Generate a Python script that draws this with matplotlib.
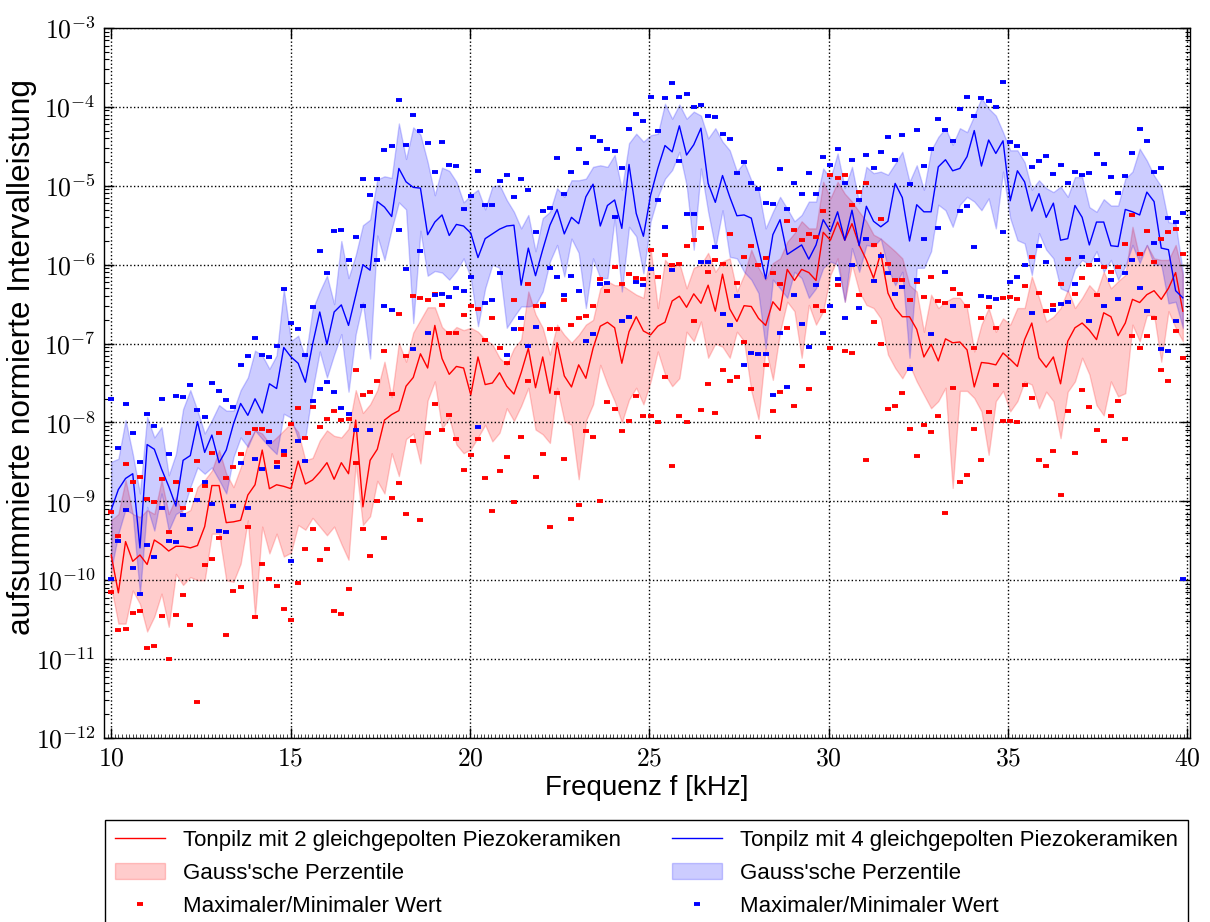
import numpy as np
import matplotlib
matplotlib.use("Agg")
import matplotlib.pyplot as plt
from matplotlib.ticker import FuncFormatter, FixedLocator, MultipleLocator, LogLocator

# ==============================================
# Data (values given as log10 of the summed normalised interval power)
# ==============================================

freq = np.linspace(10.0, 39.87, 150)  # kHz

# Tonpilz with 2 piezo ceramics (red)
red_mean_exp = [
    -9.68, -10.16, -9.51, -9.76, -9.68, -9.80, -9.49, -9.55, -9.63, -9.57, -9.57, -9.59, -9.56, -9.32, -8.80, -8.80, -9.27, -9.26, -9.24, -8.92, -8.79, -8.35, -8.84, -8.79, -8.81,
    -8.84, -8.49, -8.78, -8.73, -8.63, -8.51, -8.72, -8.51, -8.65, -7.97, -9.07, -8.48, -8.34, -7.97, -7.90, -7.85, -7.54, -7.43, -7.13, -7.31, -6.77, -7.19, -7.39, -7.29, -7.31,
    -7.65, -7.17, -7.52, -7.50, -7.37, -7.54, -7.64, -7.37, -7.06, -7.56, -7.17, -7.63, -6.99, -7.41, -7.55, -7.27, -7.44, -7.06, -6.78, -6.73, -6.80, -7.25, -6.85, -6.66, -6.84,
    -6.89, -6.78, -6.73, -6.46, -6.40, -6.54, -6.37, -6.49, -6.26, -6.59, -6.12, -6.56, -6.72, -6.52, -6.53, -6.68, -6.77, -6.47, -6.58, -6.06, -6.20, -6.06, -6.10, -6.20, -5.59,
    -5.69, -5.46, -5.69, -5.48, -5.75, -5.94, -6.17, -5.85, -6.36, -6.55, -6.66, -6.66, -6.82, -7.17, -7.01, -7.22, -6.94, -6.99, -6.98, -7.08, -7.55, -7.24, -7.25, -7.27, -7.12,
    -7.20, -7.29, -6.95, -6.74, -7.18, -7.30, -7.17, -7.51, -6.97, -6.80, -6.74, -6.83, -6.95, -6.61, -6.66, -6.90, -6.74, -6.44, -6.48, -6.38, -6.33, -6.44, -6.30, -6.10, -6.59,
]
red_upper_exp = [
    -9.24, -9.16, -8.73, -9.16, -9.20, -9.11, -9.16, -8.73, -9.16, -8.95, -9.16, -9.11, -8.82, -8.73, -8.61, -8.35, -8.65, -8.82, -8.57, -8.27, -8.10, -8.14, -8.27, -8.19, -8.10,
    -8.01, -8.12, -8.48, -8.45, -8.23, -8.10, -8.17, -8.19, -8.08, -7.59, -7.88, -7.77, -7.59, -7.23, -7.68, -6.99, -7.23, -6.86, -6.70, -6.54, -6.54, -6.79, -6.88, -6.79, -6.83,
    -6.80, -6.85, -6.95, -7.01, -7.18, -7.27, -7.06, -6.95, -6.34, -6.63, -6.80, -7.14, -6.76, -6.89, -6.99, -6.89, -6.76, -6.70, -6.30, -6.21, -6.26, -6.26, -6.32, -6.38, -6.42,
    -5.79, -6.55, -5.94, -6.04, -5.98, -6.30, -6.04, -6.00, -5.85, -6.09, -5.96, -5.92, -6.34, -6.13, -5.81, -6.04, -6.19, -5.98, -5.92, -5.71, -5.60, -5.45, -5.54, -5.54, -4.95,
    -5.16, -4.95, -5.10, -5.20, -5.33, -5.45, -5.62, -5.67, -5.75, -5.83, -5.92, -6.26, -6.34, -6.85, -6.38, -6.55, -6.47, -6.42, -6.42, -6.55, -7.10, -6.76, -6.55, -6.85, -6.68,
    -6.76, -6.55, -6.55, -6.15, -6.42, -6.72, -6.66, -6.55, -6.32, -6.55, -6.42, -6.26, -6.36, -6.09, -6.30, -6.21, -6.13, -5.52, -5.92, -5.75, -5.92, -5.94, -5.94, -5.75, -6.13,
]
red_lower_exp = [
    -10.08, -10.55, -10.55, -10.13, -10.30, -10.65, -10.46, -10.17, -10.59, -9.92, -10.06, -9.96, -10.00, -10.00, -9.41, -9.41, -10.00, -10.02, -9.79, -9.24, -10.46, -9.32, -9.66, -9.41, -9.70,
    -9.65, -9.30, -9.36, -9.21, -9.32, -9.43, -9.32, -9.54, -9.74, -8.52, -9.30, -9.19, -8.74, -8.90, -8.39, -8.68, -8.21, -8.14, -8.52, -7.72, -7.48, -8.08, -7.94, -8.28, -8.39,
    -8.34, -8.19, -8.03, -8.24, -8.13, -7.82, -7.98, -7.79, -7.56, -8.09, -8.15, -8.26, -7.56, -7.98, -8.03, -8.72, -7.98, -7.77, -7.27, -7.52, -7.73, -8.00, -7.71, -7.56, -7.77,
    -7.48, -7.10, -7.39, -7.54, -7.44, -6.85, -6.97, -6.72, -7.18, -7.00, -7.04, -7.18, -6.85, -6.97, -7.60, -7.96, -7.06, -7.46, -6.85, -6.47, -6.59, -7.18, -6.51, -6.76, -6.59,
    -6.13, -5.92, -6.47, -6.00, -6.34, -6.51, -6.55, -6.68, -7.14, -7.31, -7.44, -7.27, -7.48, -7.65, -7.82, -7.73, -7.56, -8.83, -7.60, -7.60, -7.69, -7.86, -8.41, -7.73, -7.60,
    -7.86, -7.73, -7.48, -7.52, -7.82, -7.61, -7.73, -8.20, -7.61, -7.48, -7.18, -7.39, -7.78, -7.91, -7.48, -7.67, -7.63, -6.76, -6.97, -6.64, -6.64, -7.23, -6.59, -6.80, -6.97,
]
red_max_exp = [
    -9.13, -9.44, -8.53, -8.76, -8.69, -8.97, -9.01, -8.72, -9.39, -8.76, -9.09, -8.86, -8.49, -8.80, -8.39, -8.14, -8.70, -8.57, -8.40, -8.14, -8.08, -8.08, -8.11, -8.50, -8.41,
    -8.02, -7.82, -8.20, -7.80, -8.06, -7.96, -7.86, -7.97, -7.96, -7.34, -7.65, -7.62, -7.48, -7.09, -7.64, -6.62, -7.16, -6.40, -6.42, -6.45, -6.37, -6.51, -6.86, -6.86, -6.64,
    -6.52, -6.56, -6.96, -6.68, -7.05, -7.25, -6.45, -6.82, -6.25, -6.53, -6.50, -6.81, -6.81, -6.45, -6.76, -6.68, -6.65, -6.52, -6.18, -6.34, -6.03, -6.25, -6.12, -6.17, -6.18,
    -5.82, -6.15, -5.88, -6.00, -5.99, -5.76, -5.69, -5.53, -6.09, -5.94, -5.99, -5.61, -6.23, -5.90, -5.76, -6.00, -5.91, -6.10, -6.24, -5.45, -5.56, -5.69, -5.61, -5.65, -5.32,
    -4.86, -4.90, -4.86, -5.24, -5.08, -4.96, -5.75, -5.42, -5.99, -6.20, -6.20, -6.45, -6.22, -6.41, -6.15, -6.46, -6.48, -6.31, -6.37, -6.53, -7.06, -6.67, -6.54, -6.80, -6.42,
    -6.41, -6.44, -6.27, -5.90, -6.36, -6.59, -6.51, -6.25, -5.93, -6.37, -6.17, -6.01, -6.38, -6.03, -6.09, -6.03, -5.74, -5.37, -5.86, -5.57, -5.96, -5.68, -5.59, -5.55, -5.87,
]
red_min_exp = [
    -10.15, -10.63, -10.62, -10.41, -10.39, -10.86, -10.83, -10.45, -11.00, -10.44, -10.19, -10.57, -11.54, -9.81, -9.73, -9.47, -10.70, -10.14, -10.08, -9.33, -10.46, -9.80, -9.99, -10.07, -10.36,
    -10.50, -10.04, -9.60, -9.35, -9.74, -9.61, -10.39, -10.43, -10.11, -8.51, -9.35, -9.69, -8.99, -9.46, -8.96, -8.77, -9.16, -8.24, -9.24, -8.13, -7.76, -8.10, -7.90, -8.21, -8.60,
    -8.41, -8.21, -8.70, -9.12, -8.62, -8.44, -9.01, -8.19, -7.48, -8.69, -8.40, -9.32, -7.63, -8.46, -9.23, -9.05, -8.11, -8.19, -8.99, -7.74, -7.83, -8.11, -7.98, -7.66, -7.92,
    -7.92, -8.00, -7.43, -8.55, -7.92, -8.00, -6.72, -7.84, -7.51, -7.88, -7.33, -7.48, -7.42, -6.98, -7.58, -8.18, -7.27, -7.86, -7.61, -6.80, -7.79, -7.29, -7.57, -6.52, -6.59,
    -7.05, -6.26, -7.10, -7.12, -6.39, -8.48, -6.73, -7.01, -7.83, -7.79, -7.63, -8.08, -8.42, -8.03, -8.12, -7.92, -9.15, -7.56, -8.76, -8.66, -8.08, -8.48, -7.87, -7.53, -7.98,
    -7.98, -7.99, -7.53, -7.69, -8.48, -8.55, -8.36, -8.92, -7.86, -8.39, -7.59, -7.81, -8.09, -8.24, -7.92, -7.73, -8.21, -6.91, -7.05, -6.90, -6.68, -7.34, -7.47, -6.84, -7.18,
]

# Tonpilz with 4 piezo ceramics (blue)
blue_mean_exp = [
    -9.11, -8.85, -8.71, -8.65, -9.59, -8.28, -8.34, -8.59, -8.81, -9.06, -8.48, -8.42, -7.99, -8.38, -8.16, -8.51, -8.35, -8.02, -7.76, -7.91, -7.70, -7.88, -7.51, -7.57, -7.05,
    -7.17, -7.25, -7.49, -7.01, -6.60, -7.01, -6.60, -6.51, -6.77, -6.39, -6.00, -6.07, -5.20, -5.27, -5.39, -4.78, -4.95, -5.02, -5.03, -5.62, -5.46, -5.37, -5.63, -5.49, -5.51,
    -5.60, -5.91, -5.67, -5.61, -5.55, -5.51, -5.50, -6.26, -5.79, -6.14, -5.81, -5.50, -5.30, -5.61, -5.40, -5.48, -5.14, -4.98, -5.51, -5.25, -5.18, -5.54, -4.73, -5.35, -5.64,
    -5.12, -4.78, -4.49, -4.57, -4.24, -4.61, -4.48, -4.27, -4.97, -5.21, -4.87, -5.14, -5.38, -5.37, -5.41, -5.79, -6.18, -5.62, -5.43, -5.87, -5.81, -5.75, -5.93, -5.75, -5.43,
    -5.58, -5.33, -5.69, -5.31, -5.76, -5.26, -5.45, -5.52, -5.45, -4.97, -5.15, -5.70, -5.24, -5.33, -5.33, -4.76, -4.67, -4.81, -4.78, -4.63, -4.30, -4.75, -4.42, -4.59, -4.43,
    -5.19, -4.81, -4.95, -5.32, -5.10, -5.40, -5.22, -5.69, -5.67, -5.25, -5.40, -5.75, -5.46, -5.46, -5.76, -5.77, -5.30, -5.33, -5.37, -5.08, -5.20, -5.79, -5.81, -6.33, -6.42,
]
blue_upper_exp = [
    -8.50, -8.46, -7.97, -8.40, -8.90, -7.93, -8.19, -8.06, -8.67, -8.40, -7.83, -7.59, -7.85, -8.14, -7.97, -7.78, -7.85, -7.85, -7.59, -7.43, -7.09, -7.15, -7.32, -7.15, -6.31,
    -6.97, -6.90, -7.19, -6.57, -6.34, -6.14, -6.50, -5.70, -6.17, -5.88, -5.50, -5.43, -4.92, -4.88, -4.90, -4.21, -4.66, -4.26, -4.35, -4.70, -5.12, -4.77, -4.81, -4.95, -5.21,
    -5.12, -5.05, -5.30, -5.01, -4.99, -5.18, -5.33, -5.54, -5.37, -5.83, -5.41, -5.33, -5.03, -5.14, -4.93, -4.93, -4.91, -4.76, -4.74, -4.76, -4.61, -5.05, -4.46, -4.34, -4.44,
    -4.36, -4.34, -3.96, -4.15, -3.97, -4.15, -4.06, -4.11, -4.40, -4.27, -4.44, -4.55, -4.82, -4.70, -4.93, -5.05, -5.54, -5.33, -5.14, -5.29, -5.45, -5.37, -5.20, -5.20, -4.78,
    -4.91, -4.59, -5.03, -4.76, -5.22, -4.76, -4.84, -4.82, -4.86, -4.72, -4.57, -4.95, -4.74, -5.05, -4.55, -4.38, -4.27, -4.48, -4.27, -4.32, -4.11, -3.89, -4.02, -4.11, -4.32,
    -4.55, -4.55, -4.70, -5.05, -4.93, -5.03, -5.08, -5.01, -5.14, -4.89, -4.89, -5.27, -5.33, -5.17, -5.25, -5.25, -4.91, -4.82, -4.53, -4.68, -4.87, -5.01, -5.46, -5.48, -6.09,
]
blue_lower_exp = [
    -9.87, -9.41, -9.10, -9.16, -10.17, -9.07, -9.37, -8.90, -9.37, -9.16, -9.11, -8.82, -8.57, -8.65, -8.57, -8.73, -8.90, -8.44, -8.19, -8.31, -8.10, -8.21, -8.31, -8.40, -7.89,
    -7.94, -8.21, -8.19, -7.59, -7.10, -7.43, -7.14, -6.88, -7.61, -6.88, -6.48, -7.19, -5.63, -5.94, -5.55, -5.21, -5.30, -6.74, -5.57, -6.14, -6.08, -6.10, -6.19, -6.08, -5.92,
    -6.17, -6.78, -6.30, -6.00, -6.04, -6.80, -6.66, -6.53, -6.53, -6.51, -6.34, -5.96, -5.75, -6.15, -5.67, -5.85, -6.55, -5.92, -6.17, -6.17, -5.41, -6.34, -5.52, -5.64, -6.11,
    -5.45, -5.14, -4.91, -4.80, -4.57, -4.99, -5.81, -4.78, -5.33, -5.79, -5.31, -5.90, -5.92, -6.09, -6.19, -6.36, -7.06, -6.19, -6.30, -6.42, -6.09, -6.17, -6.42, -6.30, -6.04,
    -5.96, -6.00, -6.47, -5.79, -6.09, -5.75, -5.77, -5.67, -6.04, -6.26, -6.09, -7.18, -6.04, -6.04, -5.83, -5.24, -5.31, -5.52, -5.24, -5.14, -5.20, -5.31, -5.16, -5.54, -4.82,
    -5.41, -5.69, -5.73, -6.13, -5.60, -5.81, -5.92, -6.30, -6.34, -6.05, -5.94, -6.00, -5.83, -6.09, -5.94, -6.19, -6.02, -5.75, -5.98, -5.75, -6.00, -6.00, -6.49, -6.47, -6.80,
]
blue_max_exp = [
    -7.70, -8.33, -7.76, -8.14, -8.50, -7.89, -8.04, -7.70, -8.40, -7.67, -7.68, -7.53, -7.84, -7.93, -7.50, -7.60, -7.72, -7.80, -7.27, -7.16, -6.93, -7.14, -7.17, -7.03, -6.31,
    -6.74, -6.82, -7.14, -6.54, -5.83, -6.10, -5.57, -5.56, -5.94, -5.65, -4.91, -5.12, -4.92, -4.55, -4.49, -3.91, -4.48, -4.10, -4.31, -4.46, -4.83, -4.44, -4.74, -4.75, -5.29,
    -5.13, -4.81, -5.24, -5.24, -4.94, -4.86, -5.14, -4.92, -5.05, -5.58, -5.32, -5.28, -4.65, -5.10, -4.82, -4.53, -4.71, -4.38, -4.43, -4.53, -4.56, -4.78, -4.28, -4.09, -4.18,
    -3.87, -4.31, -3.89, -3.70, -3.87, -3.84, -4.00, -3.98, -4.11, -4.13, -4.35, -4.41, -4.84, -4.70, -4.97, -5.04, -5.22, -5.23, -4.79, -5.29, -4.96, -5.10, -4.84, -5.10, -4.64,
    -4.74, -4.53, -4.97, -4.67, -5.18, -4.61, -4.78, -4.57, -4.38, -4.67, -4.36, -4.98, -4.29, -4.75, -4.54, -4.15, -4.29, -4.43, -4.03, -3.87, -4.11, -3.89, -3.92, -4.00, -3.69,
    -4.44, -4.49, -4.60, -4.76, -4.68, -4.62, -4.85, -4.74, -4.96, -4.82, -4.86, -4.84, -4.60, -4.73, -4.89, -5.09, -4.88, -4.59, -4.28, -4.43, -4.83, -4.77, -5.41, -5.46, -5.35,
]
blue_min_exp = [
    -9.99, -9.50, -9.11, -9.85, -10.17, -9.55, -9.70, -9.09, -9.50, -9.51, -9.17, -9.35, -8.98, -8.76, -9.04, -9.38, -9.39, -9.06, -8.51, -9.09, -8.46, -8.59, -8.25, -8.57, -8.36,
    -9.75, -8.23, -8.49, -7.73, -7.57, -7.49, -7.62, -7.82, -7.89, -8.09, -6.52, -8.10, -5.94, -6.52, -6.57, -5.56, -6.05, -7.07, -5.83, -6.87, -6.39, -6.37, -6.41, -6.29, -6.34,
    -6.16, -8.06, -6.48, -6.45, -6.10, -7.15, -6.81, -6.68, -7.03, -6.79, -6.53, -6.04, -6.15, -6.39, -6.14, -6.33, -6.97, -6.88, -6.24, -6.23, -5.39, -6.72, -6.66, -6.22, -6.26,
    -6.05, -5.18, -5.52, -6.07, -4.69, -5.36, -5.36, -5.97, -5.97, -5.78, -6.63, -6.77, -6.40, -7.27, -7.12, -7.13, -7.13, -7.65, -6.86, -7.55, -6.38, -6.75, -7.04, -6.26, -6.86,
    -6.53, -6.18, -6.67, -6.00, -6.55, -5.67, -6.21, -5.89, -6.10, -6.37, -6.28, -7.32, -6.20, -5.67, -6.88, -5.54, -6.09, -6.53, -5.32, -5.26, -5.77, -6.40, -6.41, -6.44, -5.58,
    -6.22, -6.16, -6.00, -6.61, -5.76, -5.97, -6.57, -6.50, -6.47, -6.24, -5.90, -6.71, -5.94, -6.53, -6.19, -6.44, -6.11, -5.94, -6.29, -6.59, -5.73, -7.07, -7.09, -6.72, -9.98,
]

x_ticks = [10, 15, 20, 25, 30, 35, 40]
y_exponents = list(range(-12, -2))

labels = {
    'red_line': 'Tonpilz mit 2 gleichgepolten Piezokeramiken',
    'blue_line': 'Tonpilz mit 4 gleichgepolten Piezokeramiken',
    'band': "Gauss'sche Perzentile",
    'extreme': 'Maximaler/Minimaler Wert',
}

# ==============================================
# Styling
# ==============================================

plt.rcParams['font.family'] = ['Liberation Sans', 'DejaVu Sans']
plt.rcParams['mathtext.fontset'] = 'cm'

def pw(vals):
    return 10.0 ** np.asarray(vals)

fig = plt.figure(figsize=(12.10, 9.22), dpi=100)
ax = fig.add_axes([104 / 1210, 1 - 738 / 922, (1190 - 104) / 1210, (738 - 28) / 922])

# bands
ax.fill_between(freq, pw(red_lower_exp), pw(red_upper_exp), color='red', alpha=0.2,
                linewidth=1, label=labels['band'])
ax.fill_between(freq, pw(blue_lower_exp), pw(blue_upper_exp), color='blue', alpha=0.2,
                linewidth=1, label=labels['band'])

# mean lines
ax.plot(freq, pw(red_mean_exp), color='red', linewidth=1.0, label=labels['red_line'])
ax.plot(freq, pw(blue_mean_exp), color='blue', linewidth=1.0, label=labels['blue_line'])

# extreme values
mk = dict(linestyle='none', marker='_', markersize=5, markeredgewidth=2.8)
ax.plot(freq, pw(red_max_exp), color='red', label=labels['extreme'], **mk)
ax.plot(freq, pw(red_min_exp), color='red', **mk)
ax.plot(freq, pw(blue_max_exp), color='blue', label=labels['extreme'], **mk)
ax.plot(freq, pw(blue_min_exp), color='blue', **mk)

ax.set_yscale('log')
ax.set_xlim(9.8, 40.07)
ax.set_ylim(1e-12, 1e-3)

ax.xaxis.set_major_locator(FixedLocator(x_ticks))
ax.xaxis.set_major_formatter(FuncFormatter(lambda v, p: r'$%d$' % round(v)))
ax.xaxis.set_minor_locator(MultipleLocator(0.1))
ax.yaxis.set_major_locator(FixedLocator([10.0 ** e for e in y_exponents]))
ax.yaxis.set_major_formatter(FuncFormatter(lambda v, p: r'$10^{%d}$' % round(np.log10(v))))
ax.yaxis.set_minor_locator(LogLocator(base=10, subs=np.arange(2, 10)))

ax.tick_params(which='both', direction='in', top=True, right=True)
ax.tick_params(which='major', length=7, width=1, labelsize=18.5, pad=6)
ax.tick_params(which='minor', length=3.5, width=0.8)
ax.tick_params(axis='x', which='minor', top=False, length=3, width=0.5)
ax.grid(True, which='major', color='black', linestyle=':', linewidth=1)

ax.set_xlabel('Frequenz f [kHz]', fontsize=20, labelpad=3)
ax.set_ylabel('aufsummierte normierte Intervalleistung', fontsize=22.8)
ax.yaxis.set_label_coords(-0.062, 0.537)

for sp in ax.spines.values():
    sp.set_linewidth(1.0)

# legend: red column first, then blue column
h, l = ax.get_legend_handles_labels()
order = [2, 0, 4, 3, 1, 5]
leg = fig.legend([h[i] for i in order], [l[i] for i in order],
                 loc='upper left', ncol=2, mode='expand', borderaxespad=0,
                 bbox_to_anchor=(105 / 1210, 0.0, (1188 - 105) / 1210, 1 - 820 / 922),
                 bbox_transform=fig.transFigure,
                 fontsize=16, frameon=True, fancybox=False, framealpha=1,
                 edgecolor='black', handlelength=2.25, handletextpad=0.8,
                 labelspacing=0.53, borderpad=0.45, markerscale=1.0)
leg.get_frame().set_linewidth(1.0)

fig.savefig('out.png', dpi=100, facecolor='white')
